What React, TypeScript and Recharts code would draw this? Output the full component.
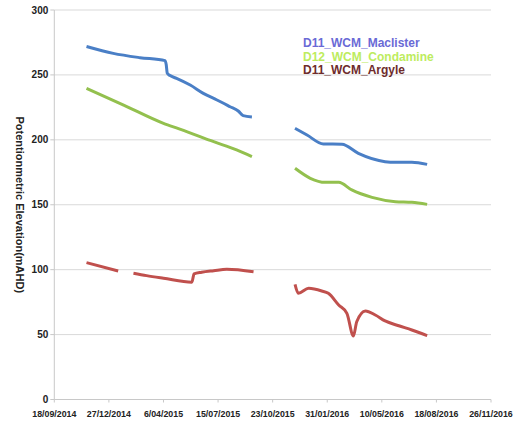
import { CartesianGrid, Legend, Line, LineChart, XAxis, YAxis } from "recharts";

// days counted from 18/09/2014; null marks a gap in the record
const maclisterDays = [59, 108, 157, 203, 205, 207, 212, 224, 249, 273, 298, 322, 337, 346, 362, 400, 441, 463, 493, 527, 557, 606, 625, 655, 683];
const maclisterLevels = [271.9, 266.6, 263.3, 261, 258, 251.3, 249.5, 247.4, 242.2, 235.8, 230.7, 225.5, 222.2, 218.6, 217.6, null, 208.9, 203.7, 196.8, 196.6, 189.6, 183.2, 182.7, 182.7, 181.1];

const condamineDays = [59, 127, 200, 230, 292, 334, 362, 400, 441, 469, 496, 521, 545, 582, 625, 655, 683];
const condamineLevels = [239.7, 226.8, 212.7, 208.3, 198.6, 192.2, 187, null, 178.1, 170.4, 167.3, 167.3, 161.4, 155.7, 152.4, 151.9, 150.3];

const argyleDays = [59, 117, 130, 145, 169, 200, 252, 256, 270, 292, 316, 365, 400, 441, 447, 466, 490, 502, 521, 536, 548, 554, 570, 588, 606, 631, 655, 683];
const argyleLevels = [105.4, 99, null, 97.2, 95.4, 93.4, 90.3, 96.7, 98, 99.2, 100.3, 98.4, null, 88.7, 81.8, 85.6, 83.6, 81.8, 72.8, 66.4, 48.9, 59.9, 68.2, 65.1, 60.5, 56.8, 53.5, 49.1];

const dateTicks = [0, 100, 200, 300, 400, 500, 600, 700, 800];
const dateLabels = ["18/09/2014", "27/12/2014", "6/04/2015", "15/07/2015", "23/10/2015", "31/01/2016", "10/05/2016", "18/08/2016", "26/11/2016"];
const levelTicks = [0, 50, 100, 150, 200, 250, 300];

const series = [
  { name: "D11_WCM_Maclister", days: maclisterDays, levels: maclisterLevels, stroke: "#4a7fc6", text: "#6a6ad6" },
  { name: "D12_WCM_Condamine", days: condamineDays, levels: condamineLevels, stroke: "#93c04e", text: "#bdec5e" },
  { name: "D11_WCM_Argyle", days: argyleDays, levels: argyleLevels, stroke: "#c0504d", text: "#6e2c2c" }
];

const font = "'Liberation Sans', Arial, sans-serif";

function LegendBox() {
  return (
    <div style={{ fontFamily: font, fontWeight: 700, fontSize: 12, lineHeight: "13.5px" }}>
      {series.map((s) => (
        <div key={s.name} style={{ color: s.text }}>{s.name}</div>
      ))}
    </div>
  );
}

function AxisTitle({ viewBox }: any) {
  const x = viewBox.x + 20;
  const y = viewBox.y + viewBox.height / 2;
  return (
    <text
      x={x}
      y={y}
      transform={`rotate(90, ${x}, ${y})`}
      textAnchor="middle"
      dominantBaseline="central"
      fill="#222"
      fontFamily={font}
      fontWeight={700}
      fontSize={11}
    >
      Potentionmetric Elevation(mAHD)
    </text>
  );
}

export default function App() {
  return (
    <div style={{ position: "absolute", left: 0, top: 0, background: "#fff" }}>
      <LineChart width={518} height={421} margin={{ top: 10, right: 27, bottom: 0, left: 0 }}>
        <CartesianGrid vertical={false} stroke="#d9d9d9" />
        <XAxis
          type="number"
          dataKey="d"
          domain={[0, 800]}
          ticks={dateTicks}
          tickFormatter={(_v: number, i: number) => dateLabels[i]}
          height={21.5}
          tickSize={3}
          tickMargin={8}
          interval={0}
          stroke="#c8c8c8"
          tick={{ fill: "#222", fontSize: 8.8, fontWeight: 700, fontFamily: font }}
        />
        <YAxis
          type="number"
          domain={[0, 300]}
          ticks={levelTicks}
          width={54.3}
          tickSize={4}
          tickMargin={2}
          interval={0}
          stroke="#c8c8c8"
          tick={{ fill: "#222", fontSize: 10, fontWeight: 700, fontFamily: font }}
          label={<AxisTitle />}
        />
        <Legend
          layout="vertical"
          align="center"
          verticalAlign="middle"
          content={<LegendBox />}
          wrapperStyle={{ left: 303, top: 37, width: "auto" }}
        />
        {series.map((s) => (
          <Line
            key={s.name}
            name={s.name}
            data={s.days.map((d, i) => ({ d, v: s.levels[i] }))}
            dataKey="v"
            type="monotone"
            stroke={s.stroke}
            strokeWidth={3}
            dot={false}
            activeDot={false}
            isAnimationActive={false}
          />
        ))}
      </LineChart>
    </div>
  );
}
